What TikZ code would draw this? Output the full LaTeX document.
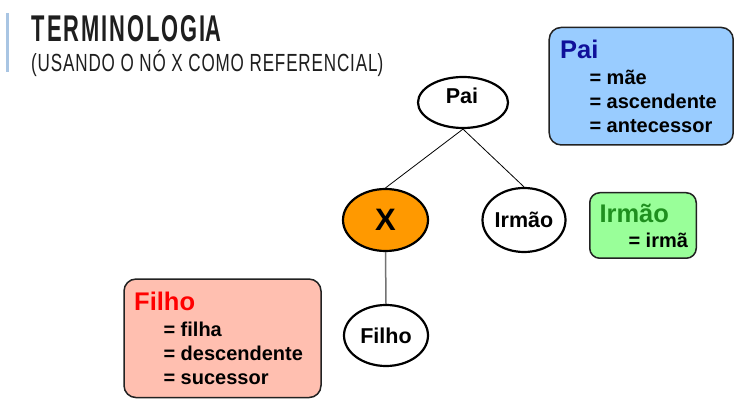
\documentclass[tikz,border=0pt]{standalone}
\usepackage{fontspec}
\usepackage{graphicx}
\setmainfont{Liberation Sans}
\usetikzlibrary{shapes.geometric}
\definecolor{barblue}{HTML}{A9C5E3}
\definecolor{titlegray}{HTML}{1E1E1E}
\definecolor{paifill}{HTML}{99CCFF}
\definecolor{painavy}{HTML}{10109A}
\definecolor{irmfill}{HTML}{99FF99}
\definecolor{irmgreen}{HTML}{1F8F1F}
\definecolor{filfill}{HTML}{FFBFB0}
\definecolor{filred}{HTML}{FF0000}
\definecolor{xorange}{HTML}{FF9900}
\definecolor{boxborder}{HTML}{222222}
\begin{document}
\begin{tikzpicture}[x=1pt,y=-1pt,
  tnode/.style={ellipse,draw=black,line width=2.2pt,inner sep=0pt,font=\fontsize{21.5}{21.5}\selectfont\bfseries},
  ttext/.style={inner sep=0pt,font=\fontsize{21.5}{21.5}\selectfont\bfseries},
  infobox/.style={draw=boxborder,line width=1.5pt,rounded corners=12pt,inner sep=0pt},
  boxtitle/.style={anchor=base west,inner sep=0pt,font=\fontsize{25.5}{25.5}\selectfont\bfseries},
  boxline/.style={anchor=base west,inner sep=0pt,font=\fontsize{20}{20}\selectfont\bfseries},
  headtext/.style={anchor=base west,inner sep=0pt,text=titlegray},
  edge/.style={draw=black,line width=0.8pt}]
\useasboundingbox (0,0) rectangle (739,403);
\fill[white] (0,0) rectangle (739,403);
% title
\fill[barblue] (6,13) rectangle (8.5,72);
\node[headtext] (title) at (31.5,41.7) {\resizebox{190pt}{26pt}{\fontsize{36}{36}\selectfont\bfseries\addfontfeatures{LetterSpace=9}TERMINOLOGI\addfontfeatures{LetterSpace=0}A}};
\node[headtext] (subtitle) at (31,71.7) {\resizebox{352pt}{21.5pt}{\fontsize{29}{29}\selectfont\addfontfeatures{LetterSpace=5}(USANDO O NÓ X COMO REFERENCIAL\addfontfeatures{LetterSpace=0})}};
% tree
\node[tnode,minimum width=90pt,minimum height=51pt] (pai) at (463,102.5) {};
\node[ttext] (paitext) at (462,95.5) {Pai};
\node[tnode,fill=xorange,minimum width=85pt,minimum height=62pt,font=\fontsize{31}{31}\selectfont\bfseries] (x) at (385.5,220) {X};
\node[tnode,minimum width=83pt,minimum height=64pt] (irmao) at (524,220) {Irmão};
\node[tnode,minimum width=84pt,minimum height=61pt] (filho) at (386,335.5) {Filho};
\draw[edge] (pai.south) -- (x.north);
\draw[edge] (pai.south) -- (irmao.north);
\draw[draw=black!55,line width=1.5pt] (x.south) -- (filho.north);
% info boxes
\node[infobox,fill=paifill,minimum width=184pt,minimum height=117.5pt] (paibox) at (641.2,86.2) {};
\node[boxtitle,text=painavy] (paititle) at (560,58.3) {Pai};
\node[boxline] (pai1) at (589.3,85) {= mãe};
\node[boxline] (pai2) at (589.3,108.7) {= ascendente};
\node[boxline] (pai3) at (589.3,132.3) {= antecessor};
\node[infobox,fill=irmfill,rounded corners=10pt,minimum width=106.5pt,minimum height=65.5pt] (irmbox) at (643,225.5) {};
\node[boxtitle,text=irmgreen] (irmtitle) at (599.3,223) {Irmão};
\node[boxline] (irm1) at (628.3,248) {= irmã};
\node[infobox,fill=filfill,minimum width=197pt,minimum height=118.5pt] (filbox) at (222.5,338.3) {};
\node[boxtitle,text=filred] (filtitle) at (134,311) {Filho};
\node[boxline] (fil1) at (163.3,336.7) {= filha};
\node[boxline] (fil2) at (163.3,360.3) {= descendente};
\node[boxline] (fil3) at (163.3,384.3) {= sucessor};
\end{tikzpicture}
\end{document}
